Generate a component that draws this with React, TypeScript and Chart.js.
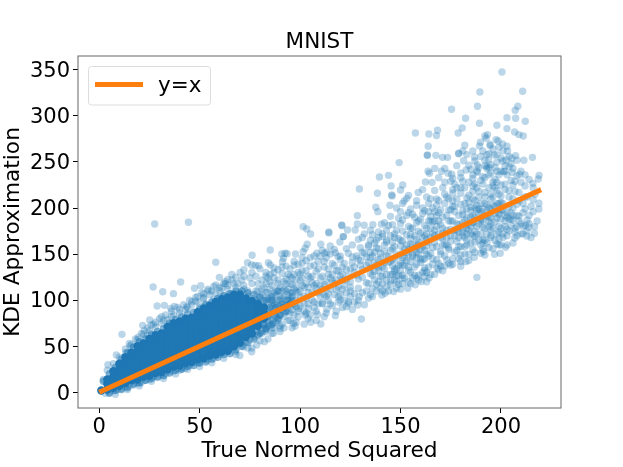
import React, { useEffect, useRef } from "react";
import { Chart, registerables } from "chart.js";

Chart.register(...registerables);

const xTicks = [0, 50, 100, 150, 200];
const yTicks = [0, 50, 100, 150, 200, 250, 300, 350];
const identityLine: [number, number][] = [[0, 0], [220, 220]];

// opaque heart of the cloud, read column by column
const coreColumns: [number, number[]][] = [
  [1, [2]],
  [4, [3, 9, 14]],
  [7, [5, 11, 17, 23]],
  [10, [7, 13, 19, 25, 31]],
  [13, [10, 16, 22, 28, 34, 38]],
  [16, [13, 19, 25, 31, 37, 43]],
  [19, [14, 20, 26, 32, 38, 44, 50]],
  [22, [17, 23, 29, 35, 41, 47, 53]],
  [25, [18, 24, 30, 36, 42, 48, 54, 58]],
  [28, [21, 27, 33, 39, 45, 51, 57, 62]],
  [31, [22, 28, 34, 40, 46, 52, 58, 64]],
  [34, [25, 31, 37, 43, 49, 55, 61, 67, 71]],
  [37, [28, 34, 40, 46, 52, 58, 64, 70, 75]],
  [40, [29, 35, 41, 47, 53, 59, 65, 71, 77]],
  [43, [32, 38, 44, 50, 56, 62, 68, 74, 80]],
  [46, [33, 39, 45, 51, 57, 63, 69, 75, 81]],
  [49, [36, 42, 48, 54, 60, 66, 72, 78, 84, 87]],
  [52, [37, 43, 49, 55, 61, 67, 73, 79, 85, 91]],
  [55, [40, 46, 52, 58, 64, 70, 76, 82, 88, 94]],
  [58, [41, 47, 53, 59, 65, 71, 77, 83, 89, 95, 98]],
  [61, [44, 50, 56, 62, 68, 74, 80, 86, 92, 98, 101]],
  [64, [45, 51, 57, 63, 69, 75, 81, 87, 93, 99, 103]],
  [67, [50, 56, 62, 68, 74, 80, 86, 92, 98, 103, 106]],
  [70, [54, 60, 66, 72, 78, 84, 90, 96, 102, 106]],
  [73, [60, 66, 72, 78, 84, 90, 96, 102]],
  [76, [64, 70, 76, 82, 88, 94, 99]],
  [79, [72, 78, 84, 90, 96]],
  [82, [80, 86, 92]],
];

const shoulderPoints: [number, number][] = [
  [2, 12], [5, 20], [8, 27], [11, 36], [14, 43], [17, 49], [20, 55], [23, 58], [26, 63], [29, 66], [32, 69],
  [35, 75], [38, 79], [41, 82], [44, 85], [47, 87], [50, 90], [53, 95], [56, 98], [59, 102], [62, 105], [65, 107],
  [68, 110], [71, 110], [74, 108], [77, 106], [80, 103], [83, 100], [86, 104],
  [5, -1], [8, 2], [11, 3], [14, 5], [17, 9], [20, 10], [23, 13], [26, 15], [29, 17], [32, 18], [35, 21], [38, 24],
  [41, 25], [44, 28], [47, 29], [50, 32], [53, 33], [56, 36], [59, 38], [62, 41], [65, 42], [68, 46], [71, 50],
  [74, 54], [77, 58], [80, 64], [83, 69], [86, 74], [89, 80],
  [84, 82], [85, 92], [87, 84], [88, 92], [90, 84], [91, 96], [93, 88], [94, 100], [96, 104], [82, 74], [86, 100],
  [89, 110], [92, 92], [95, 96],
];

const fringePoints: [number, number][] = [
  [15, 53], [18, 58], [21, 64], [24, 70], [27, 74], [30, 80], [33, 84], [36, 88], [39, 92], [42, 95], [45, 100],
  [48, 103], [51, 108], [54, 112], [57, 115], [60, 114], [63, 118], [66, 122], [69, 118], [72, 126], [75, 124],
  [78, 126], [24, 62], [28, 76], [32, 78], [36, 82], [40, 90], [44, 92], [48, 99], [52, 103], [56, 110], [60, 110],
  [64, 116], [68, 114], [72, 112],
  [8, -2], [14, 3], [20, 7], [26, 12], [32, 15], [38, 20], [44, 25], [50, 28], [56, 32], [62, 37], [68, 41], [74, 48],
  [80, 56], [86, 64], [92, 70], [98, 76], [104, 80], [70, 40], [76, 48], [84, 58], [90, 66], [96, 70], [102, 74],
  [108, 78], [112, 82],
];

const upperRight: [number, number][] = [
  [200.5, 347.7], [189.5, 326], [210.8, 326.7], [188.3, 310.5], [208.4, 310.5], [207.1, 306.1], [175.4, 307.2],
  [182.4, 297.4], [203, 298.1], [207.3, 297.4], [212.1, 294.2], [189.3, 292], [198, 289.8], [203, 286.2],
  [180.7, 286.9], [178.7, 281.5], [168.4, 284.4], [157.4, 281.5], [164.1, 280.4], [167.9, 278.6], [206.8, 282.6],
  [208.9, 279.7], [211.1, 278.2], [193.3, 279.7], [192, 278.2], [192.6, 275.7], [189.8, 271.4], [197.6, 274.3],
  [198.6, 272.8], [182, 268.1], [163.8, 267], [163.4, 257.6], [163.3, 257.2], [167.6, 257.2], [170.9, 255],
  [173.4, 255], [179, 259.4], [178.9, 259], [186.8, 255.4], [194.6, 267.7], [194.6, 269.2], [189.3, 267.4],
  [200.8, 269.5], [203, 267], [203.3, 261.9], [207.3, 256.9], [205.4, 254], [215.7, 255], [211.4, 251.8],
  [181.4, 251.4], [184, 246.4], [188.2, 246.7], [193.8, 252.2], [194.1, 259], [196.6, 257.6], [201, 251.1],
  [202.5, 252.2], [149.3, 249.3], [139.5, 233.7], [144, 235.5], [163.7, 239.9], [164.4, 237.7], [170.4, 239.9],
  [173.7, 237.7], [175.5, 236.6], [182.7, 241.3], [188.3, 238.8], [193, 242.8], [201.3, 239.5], [205.6, 238.8],
  [209.3, 236.6], [219, 235.5], [218.6, 231.5], [215.9, 226.8], [129.5, 220.7], [145.3, 224], [151.1, 225],
  [150, 219.6], [138.5, 216], [145.6, 214.2], [145.8, 213.2], [154, 213.8], [153.1, 210.5], [151.8, 207.6],
  [158.8, 217], [162.4, 228.3], [165.7, 227.9], [172, 228], [177, 226], [181, 229], [186, 232], [192, 233],
  [197, 231], [202, 226], [207, 229], [212, 224], [216, 222], [186, 224], [191, 226], [196, 224], [176, 220],
  [171, 222], [167, 219], [161, 220], [180, 216], [186, 218], [192, 217], [198, 219], [204, 219], [209, 217],
  [213, 212], [173, 212], [168, 210], [163, 212], [158, 208], [178, 210], [183, 211], [189, 212], [195, 210],
  [200, 213], [206, 210], [211, 205], [215, 202], [216, 209],
  [169, 233], [172, 243], [175, 229], [178, 246], [180, 233], [183, 258], [185, 242], [187, 251], [189, 244],
  [190, 256], [191, 262], [192, 252], [193, 258], [195, 247], [196, 264], [197, 244], [198, 258], [199, 236],
  [200, 254], [201, 262], [202, 246], [203, 236], [204, 256], [205, 248], [206, 243], [208, 252], [210, 240],
  [212, 236], [214, 231], [167, 243], [181, 262], [186, 262], [194, 244], [199, 266],
];

const denseCloud: [number, number][] = [
  [128.5, 191.8], [128.5, 182.7], [131.9, 181.3], [136.2, 182], [140.5, 182.4], [127.4, 176.2], [123.6, 176.2],
  [120.7, 181.6], [121.6, 169], [137.7, 200.8], [138.7, 196.1], [144.7, 203], [148, 200], [150, 196], [155, 199],
  [158, 203], [161, 200], [164, 205], [168, 203], [172, 205], [176, 202], [180, 204], [184, 206], [188, 203],
  [192, 205], [196, 203], [200, 206], [204, 202], [208, 204], [212, 199], [145, 191], [149, 189], [153, 192],
  [157, 190], [161, 194], [165, 191], [169, 195], [173, 192], [177, 196], [181, 193], [185, 197], [189, 194],
  [193, 197], [197, 194], [201, 198], [205, 195], [209, 191], [213, 187], [142, 184], [146, 182], [150, 183],
  [154, 180], [158, 184], [162, 181], [166, 185], [170, 182], [174, 186], [178, 183], [182, 187], [186, 184],
  [190, 188], [194, 185], [198, 189], [202, 186], [206, 187], [210, 183], [214, 183], [135, 176], [139, 174],
  [143, 176], [147, 172], [151, 175], [155, 171], [159, 175], [163, 172], [167, 176], [171, 173], [175, 177],
  [179, 174], [183, 178], [187, 175], [191, 179], [195, 176], [199, 180], [203, 177], [207, 174], [211, 172],
  [131, 168], [135, 165], [139, 168], [143, 165], [147, 168], [151, 164], [155, 167], [159, 163], [163, 166],
  [167, 163], [171, 167], [175, 164], [179, 168], [183, 165], [187, 169], [191, 166], [195, 170], [199, 167],
  [203, 170], [206.9, 167.5], [212.9, 169.7], [216.7, 172.6], [216.7, 179.8], [213.9, 179.1], [212.1, 181.3],
  [218.9, 205.2], [218.9, 199], [126, 160], [130, 157], [134, 160], [138, 157], [142, 160], [146, 156],
  [150, 159], [154, 155], [158, 158], [162, 154], [166, 157], [170, 153], [174, 157], [178, 154], [182, 158],
  [186, 155], [190, 160], [194, 157], [198, 161], [202.3, 157.4], [196.8, 149.8], [199.6, 150.9], [191.3, 152.7],
  [190, 151], [192, 149], [124, 151], [128, 148], [132, 151], [136, 148], [140, 151], [144, 147], [148, 150],
  [152, 146], [156, 149], [160, 145], [164, 148], [168, 144], [172, 148], [176, 145], [180, 149], [184, 150],
  [186.7, 146.5], [182.5, 141.8], [179.9, 136.8], [168.2, 134.6], [126, 141], [130, 138], [134, 141], [138, 138],
  [142, 141], [146, 137], [150, 140], [154, 136], [158, 139], [162, 135], [166, 139], [170, 137], [174, 140],
  [123, 133], [127, 130], [131, 133], [135, 129], [139, 132], [143, 128], [147, 131], [151, 127], [155, 130],
  [159, 127], [163, 130], [157.3, 116.8], [160.3, 120.1], [164.2, 124.1], [161.9, 125.5], [155.9, 124.1],
  [150.8, 123.7], [147.8, 126.6], [153.6, 112.9], [146.5, 109.3], [143.2, 114.7], [139.8, 112.9], [140.7, 105.6],
  [142.3, 107.4], [188, 124.8], [130.5, 79.6], [128.7, 94.8], [134, 102], [129.4, 103.8], [121, 122], [125, 120],
  [129, 123], [133, 119], [137, 122], [141, 118], [145, 121], [149, 117], [121, 112], [125, 110], [129, 113],
  [133, 110], [136, 113], [139, 120], [125, 104], [127, 98], [122, 100], [120, 106], [132, 95], [126, 90],
  [151, 205], [156, 193], [160, 188], [164, 196], [176, 208], [183, 199], [187, 208], [191, 199], [195, 199],
  [199, 193], [203, 190], [187, 190], [181, 178], [177, 170], [173, 160], [185, 172], [189, 183], [193, 172],
  [197, 165], [201, 172], [205, 181], [183, 160], [187, 163], [191, 162], [179, 158], [195, 183], [199, 174],
  [193, 191], [189, 199], [185, 201], [181, 197], [175, 198], [169, 186], [165, 178], [161, 168], [157, 170],
  [153, 160], [149, 167], [145, 170], [141, 169], [137, 162], [133, 147], [129, 145], [135, 135], [141, 136],
  [147, 145], [151, 152], [155, 142], [159, 150], [163, 159], [167, 170], [171, 178],
  [131, 108], [135, 106], [138, 110], [144, 110], [148, 113], [151, 118], [154, 120], [158, 124], [162, 132],
  [165, 128], [169, 133], [172, 137], [176, 139], [180, 142], [127, 107], [124, 96], [129, 100], [136, 104],
];

const cloudExtra: [number, number][] = [
  [126, 147], [127, 136], [128, 127], [129, 166], [130, 143], [131, 125], [131, 152], [132, 172], [133, 138], [134, 118],
  [134, 158], [135, 146], [136, 171], [136, 127], [137, 152], [137, 141], [138, 117], [138, 165], [139, 136], [139, 156],
  [140, 126], [140, 146], [141, 172], [141, 110], [142, 134], [142, 153], [143, 122], [143, 163], [144, 141], [144, 181],
  [145, 128], [145, 154], [145, 117], [146, 163], [146, 144], [147, 122], [147, 158], [148, 134], [148, 176], [149, 148],
  [149, 127], [150, 165], [150, 112], [151, 138], [151, 187], [152, 156], [152, 124], [153, 171], [153, 143], [154, 132],
  [154, 195], [155, 161], [155, 118], [156, 147], [156, 178], [157, 127], [157, 136], [158, 166], [158, 152], [159, 186],
  [159, 122], [160, 141], [160, 173], [161, 158], [161, 130], [162, 197], [162, 145], [163, 178], [163, 120], [164, 163],
  [164, 136], [165, 151], [165, 186], [165, 210], [166, 172], [166, 145], [167, 128], [167, 196], [168, 158], [168, 180],
  [169, 140], [169, 208], [170, 168], [170, 150], [171, 190], [171, 132], [172, 160], [172, 215], [173, 176], [173, 144],
  [174, 198], [174, 155], [175, 170], [175, 138], [176, 186], [176, 216], [177, 152], [177, 202], [178, 164], [178, 176],
  [179, 145], [179, 192], [180, 158], [180, 222], [181, 170], [181, 184], [182, 150], [182, 205], [183, 172], [183, 190],
  [184, 143], [184, 214], [185, 162], [185, 180], [186, 192], [186, 170], [186, 210], [187, 152], [187, 226], [188, 180],
  [188, 198], [188, 240], [189, 165], [189, 218], [190, 172], [190, 205], [190, 186], [191, 155], [191, 234], [192, 192],
  [192, 178], [192, 212], [193, 162], [193, 245], [194, 200], [194, 222], [194, 180], [195, 168], [195, 190], [195, 238],
  [196, 156], [196, 212], [197, 185], [197, 202], [198, 172], [198, 228], [198, 250], [199, 160], [199, 195], [199, 215],
  [200, 178], [200, 240], [200, 188], [200, 160], [201, 205], [201, 168], [202, 220], [202, 180], [203, 195], [203, 160],
  [204, 212], [204, 175], [205, 230], [205, 188], [206, 162], [206, 200], [207, 218], [207, 178], [208, 192], [208, 170],
  [209, 208], [209, 186], [210, 172], [210, 228], [211, 195], [211, 180], [212, 212], [213, 175], [214, 192], [215, 168],
  [216, 196], [217, 215], [218, 186], [182, 168], [184, 176], [186, 184], [188, 172], [190, 196], [192, 165], [194, 190],
  [196, 178], [198, 205], [200, 198], [202, 192], [204, 188], [206, 192], [208, 180], [191, 186], [193, 204], [195, 215],
  [197, 222], [199, 205], [187, 200], [185, 190], [183, 182], [181, 174], [179, 182], [177, 176], [175, 186], [173, 168],
  [171, 160], [169, 172], [167, 186], [165, 168], [163, 150], [161, 144], [159, 160], [157, 155], [155, 178], [153, 152],
  [151, 146], [149, 138], [147, 134], [145, 142], [143, 148], [141, 126], [139, 144], [137, 131], [135, 152], [188, 222],
  [190, 230], [192, 246], [194, 236], [196, 228], [198, 240], [200, 225], [202, 240], [204, 245], [206, 225], [208, 235],
  [186, 236], [184, 228], [182, 222], [180, 238], [178, 222], [176, 232], [174, 210], [170, 198], [168, 192], [166, 200],
  [164, 186], [162, 170], [160, 155], [158, 146], [156, 160], [154, 150], [152, 138], [150, 132], [148, 120], [146, 128],
];

const midBand: [number, number][] = [
  [27.6, 182.7], [44.4, 184.5], [101.5, 179.8], [103.3, 177.3], [105.2, 171.9], [114.3, 174], [114.3, 173],
  [120.8, 180.9], [121.4, 169], [119.8, 163.2], [110.3, 160.7], [115, 158.8], [103.5, 160.7], [102.5, 156.3],
  [101.5, 152.7], [85.1, 154.5], [92.5, 150.9], [90.9, 150.2], [93.5, 150.5], [97.7, 150.2], [108.3, 150.9],
  [112.1, 150.9], [113.3, 152], [117.5, 151.6], [118.8, 147.3], [76.1, 148.7], [58, 141.1], [73.8, 140.7],
  [75.9, 138.2], [77.6, 137.8], [79.3, 137.5], [84.2, 140.7], [85.2, 138.2], [91.2, 141.8], [91.7, 145.4],
  [70.1, 130.2], [59.8, 124.8], [64, 122.6], [62.6, 120.1], [58, 116.5], [50.5, 115.8], [47.4, 112.9],
  [54.3, 110], [40.5, 119.7], [26.8, 114.3], [31.6, 109.2], [36.9, 107.1], [28.8, 93.7], [32.4, 94.4],
  [35.6, 91.1], [37.4, 93.3], [43.5, 92.9], [46, 98.4], [49.4, 97.3], [51.8, 102], [25.1, 78.5], [21.6, 72.7],
  [22.4, 66.9], [25.8, 73], [31, 82], [11.3, 62.9], [19.5, 59.7], [8.5, 40.5], [15.3, 50.2], [13.1, 43],
  [4.3, 30], [110.3, 74.1], [105.3, 76], [97.5, 72], [96.7, 75], [108.6, 84.6], [117.5, 83.2], [113.3, 90.1],
  [104.2, 91], [102.5, 83.9], [99.2, 91], [90, 69.4], [86.7, 64], [82.2, 55], [75.9, 44], [78.4, 51.3],
  [67.6, 44], [71.8, 49.5], [53.8, 34.7], [49.7, 31.4], [42.7, 26], [40.2, 24.2], [60, 41], [64, 44], [57, 37],
  [79, 62], [83, 66], [87, 70], [91, 74], [95, 78], [99, 82], [103, 86], [107, 92], [111, 97], [115, 96],
  [119, 104], [123, 93], [118, 112], [114, 107], [110, 104], [106, 100], [102, 96], [98, 93], [94, 88], [90, 84],
  [86, 78], [82, 73], [78, 70], [80, 78], [84, 84], [88, 90], [92, 95], [96, 100], [100, 103], [104, 108],
  [108, 113], [112, 117], [116, 121], [120, 126], [118, 132], [114, 128], [110, 124], [106, 119], [102, 114],
  [98, 110], [94, 106], [90, 100], [86, 96], [82, 90], [78, 84], [80, 96], [84, 101], [88, 106], [92, 112],
  [96, 117], [100, 121], [104, 126], [108, 131], [112, 136], [116, 140], [120, 144], [117, 155], [113, 146],
  [109, 142], [105, 137], [101, 132], [97, 128], [93, 123], [89, 118], [85, 112], [81, 106], [78, 100],
  [79, 110], [83, 118], [87, 124], [91, 129], [95, 134], [99, 139], [103, 143], [107, 148], [111, 154],
  [85, 128], [89, 133], [93, 137], [97, 142], [101, 146], [81, 122], [76, 118], [72, 116], [74, 110], [71, 122],
  [67, 118], [68, 125], [64, 112], [61, 113], [58, 108], [55, 106], [52, 107], [49, 104], [46, 95], [43, 90],
  [40, 86], [37, 84], [34, 79], [31, 75], [28, 71], [25, 67], [22, 63], [19, 57], [16, 52], [13, 47], [10, 38],
  [7, 31], [4, 24], [2, 14], [83, 130], [87, 135], [76, 130], [80, 134], [66, 128], [72, 133], [62, 118],
  [5, 0], [9, 3], [13, 6], [17, 8], [21, 11], [25, 14], [29, 16], [33, 20], [37, 23], [41, 27], [45, 29],
  [49, 33], [53, 36], [57, 41], [61, 44], [65, 47], [69, 52], [73, 55], [77, 60], [81, 66], [85, 72], [89, 78],
  [3, -1], [7, 2], [11, 4], [15, 7], [19, 10], [23, 13], [27, 17], [31, 19], [35, 23], [39, 26], [43, 30],
  [47, 32], [51, 36], [55, 39], [59, 42], [63, 45], [67, 49], [71, 53], [75, 57], [79, 63], [83, 68],
  [75, 100], [78, 92], [74, 104], [70, 108], [66, 107], [62, 105], [60, 103], [57, 101], [53, 96], [50, 92],
  [76, 62], [73, 60], [70, 57], [80, 70], [84, 76], [88, 82], [92, 86], [96, 90],
];

const midExtra: [number, number][] = [
  [77, 102], [77, 76], [78, 110], [78, 66], [79, 88], [79, 118], [80, 74], [80, 104], [81, 92], [81, 64], [82, 114],
  [82, 82], [83, 98], [83, 70], [84, 108], [84, 90], [84, 124], [85, 78], [85, 102], [86, 86], [86, 116], [86, 70],
  [87, 96], [87, 130], [88, 76], [88, 110], [89, 88], [89, 122], [90, 92], [90, 72], [90, 114], [91, 102], [91, 136],
  [92, 82], [92, 120], [93, 94], [93, 110], [94, 78], [94, 128], [95, 100], [95, 86], [95, 118], [96, 108], [96, 124],
  [97, 84], [97, 138], [98, 100], [98, 114], [99, 88], [99, 130], [100, 110], [100, 94], [101, 124], [101, 140],
  [102, 104], [102, 88], [103, 118], [103, 132], [104, 96], [104, 114], [105, 146], [105, 84], [106, 126], [106, 108],
  [107, 138], [107, 98], [108, 118], [108, 88], [109, 134], [109, 108], [110, 148], [110, 116], [111, 96], [111, 126],
  [112, 106], [112, 142], [113, 120], [113, 86], [114, 134], [114, 100], [115, 112], [115, 150], [116, 128], [116, 94],
  [117, 106], [117, 138], [118, 122], [118, 88], [119, 132], [119, 114], [120, 100], [120, 148], [121, 128], [121, 92],
  [122, 116], [122, 140], [123, 108], [123, 156], [124, 126], [124, 98], [125, 134], [125, 114], [78, 78], [80, 86],
  [82, 100], [84, 72], [86, 94], [88, 98], [90, 104], [92, 104], [94, 112], [96, 94], [98, 122], [100, 128], [81, 112],
  [83, 126], [85, 120], [87, 108], [89, 100], [91, 90], [93, 118], [95, 126], [97, 112],
  [79, 98], [81, 84], [83, 108], [85, 88], [87, 76], [89, 94], [91, 110], [93, 100], [95, 108], [97, 96], [99, 108],
  [101, 116], [103, 102], [105, 124], [107, 116], [109, 96], [111, 112], [113, 104], [115, 124], [117, 118],
  [119, 98], [121, 136], [123, 122],
];

export default function App() {
  const canvasRef = useRef<HTMLCanvasElement | null>(null);

  useEffect(() => {
    const canvas = canvasRef.current;
    if (!canvas) return;
    document.body.style.margin = "0";

    const corePoints = coreColumns.flatMap(([x, ys]) => ys.map((y) => ({ x, y })));
    const toPoints = (list: [number, number][]) => list.map(([x, y]) => ({ x, y }));
    const faint = "rgba(31,119,180,0.3)";
    const faintSet = (data: [number, number][]) => ({
      label: "points",
      data: toPoints(data),
      backgroundColor: faint,
      borderWidth: 0,
      pointRadius: 3.7,
    });

    const framePlugin = {
      id: "frameAndLegend",
      beforeDraw(chart: any) {
        // nudge the y tick labels down to sit where the reference has them
        chart.scales.y.getLabelItems(chart.chartArea).forEach((item: any) => {
          if (!item.nudged) {
            item.options.translation[1] += 1.8;
            item.nudged = true;
          }
        });
      },
      afterDraw(chart: any) {
        const { ctx, chartArea: a } = chart;
        ctx.save();
        ctx.strokeStyle = "#666666";
        ctx.lineWidth = 1;
        ctx.strokeRect(a.left, a.top, a.right - a.left, a.bottom - a.top);
        ctx.beginPath();
        ctx.roundRect(88.5, 66.5, 122, 38.5, 3);
        ctx.fillStyle = "rgba(255,255,255,0.8)";
        ctx.fill();
        ctx.strokeStyle = "#dddddd";
        ctx.stroke();
        ctx.strokeStyle = "#ff7f0e";
        ctx.lineWidth = 5;
        ctx.beginPath();
        ctx.moveTo(95, 84.5);
        ctx.lineTo(143, 84.5);
        ctx.stroke();
        ctx.fillStyle = "#000000";
        ctx.font = "21.5px 'DejaVu Sans'";
        ctx.textAlign = "left";
        ctx.textBaseline = "alphabetic";
        ctx.fillText(chart.data.datasets[0].label, 158, 91.5);
        ctx.restore();
      },
    };

    const tickFont = { family: "'DejaVu Sans'", size: 21 };
    const labelFont = { family: "'DejaVu Sans'", size: 21.7 };

    const chart = new Chart(canvas, {
      type: "scatter",
      data: {
        datasets: [
          {
            label: "y=x",
            data: toPoints(identityLine),
            showLine: true,
            borderColor: "#ff7f0e",
            borderWidth: 5,
            pointRadius: 0,
          },
          faintSet(midBand),
          faintSet(midExtra),
          faintSet(denseCloud),
          faintSet(cloudExtra),
          faintSet(upperRight),
          faintSet(fringePoints),
          { label: "shoulder", data: toPoints(shoulderPoints), backgroundColor: "rgba(31,119,180,0.55)", borderWidth: 0, pointRadius: 3.7 },
          { label: "core", data: corePoints, backgroundColor: "#1f77b4", borderWidth: 0, pointRadius: 4.2 },
        ],
      },
      plugins: [framePlugin],
      options: {
        responsive: false,
        animation: false,
        events: [],
        layout: { padding: { left: 0, right: 62, top: 0, bottom: 0 } },
        plugins: {
          legend: { display: false },
          tooltip: { enabled: false },
          title: {
            display: true,
            text: "MNIST",
            fullSize: false,
            color: "#000000",
            font: { family: "'DejaVu Sans'", size: 21.5, weight: "normal" },
            padding: { top: 30, bottom: 0.2 },
          },
        },
        scales: {
          x: {
            type: "linear",
            min: -10.6,
            max: 229.9,
            afterFit: (s: any) => { s.height = 59; },
            afterBuildTicks: (s: any) => { s.ticks = xTicks.map((value) => ({ value })); },
            grid: { drawOnChartArea: false, drawTicks: true, tickLength: 5, tickColor: "#000000" },
            border: { display: false },
            ticks: { color: "#000000", font: tickFont, padding: 2, maxRotation: 0, autoSkip: false },
            title: { display: true, text: "True Normed Squared", color: "#000000", font: labelFont, padding: { top: 0, bottom: 3 } },
          },
          y: {
            type: "linear",
            min: -17,
            max: 365,
            afterFit: (s: any) => { s.width = 78; },
            afterBuildTicks: (s: any) => { s.ticks = yTicks.map((value) => ({ value })); },
            grid: { drawOnChartArea: false, drawTicks: true, tickLength: 5, tickColor: "#000000" },
            border: { display: false },
            ticks: { color: "#000000", font: tickFont, padding: 3, autoSkip: false },
            title: { display: true, text: "KDE Approximation", color: "#000000", font: labelFont, padding: { top: 0.5, bottom: 0 } },
          },
        },
      },
    } as any);

    return () => chart.destroy();
  }, []);

  return <canvas ref={canvasRef} width={623} height={467} style={{ display: "block", position: "fixed", left: 0, top: 0 }} />;
}
